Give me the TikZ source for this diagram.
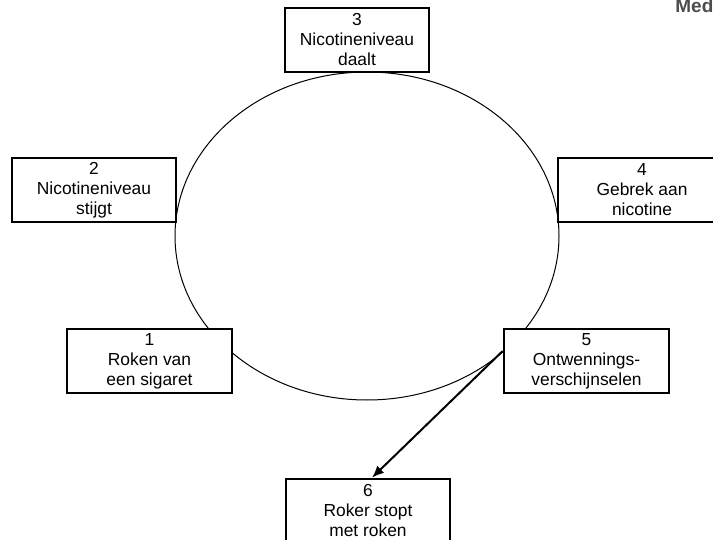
\documentclass[tikz,border=0pt]{standalone}
\usepackage{fontspec}
\setmainfont{Liberation Sans}
\usetikzlibrary{arrows.meta}

\begin{document}
\begin{tikzpicture}[x=0.5pt, y=-0.5pt, >={Latex[length=6pt,width=5pt]},
  every node/.style={align=center, inner sep=0pt, font=\fontsize{8.7}{10}\selectfont},
  stage/.style={draw, line width=1.3pt, fill=white, minimum height=32pt}]
\useasboundingbox (0,0) rectangle (713,540);
\clip (0,0) rectangle (713,540);
\node[anchor=base west, text=black!70, font=\bfseries\fontsize{9.5}{10}\selectfont] (med) at (675,13) {Med};
% cycle
\draw[line width=0.5pt] (367,236) ellipse [x radius=96pt, y radius=82pt];
\node[stage, minimum width=72pt] (drop) at (357,40) {3\\Nicotineniveau\\daalt};
\node[stage, minimum width=82pt] (rise) at (94,190) {2\\Nicotineniveau\\stijgt};
\node[stage, minimum width=84pt] (lack) at (642,190) {4\\Gebrek aan\\nicotine};
\node[stage, minimum width=82.5pt] (smoke) at (149.5,361) {1\\Roken van\\een sigaret};
\node[stage, minimum width=82.5pt] (withdraw) at (586.5,361) {5\\Ontwennings-\\verschijnselen};
\node[stage, minimum width=82pt] (quit) at (368,511) {6\\Roker stopt\\met roken};
\draw[->, line width=1pt] ([yshift=5pt]withdraw.west) -- ([xshift=2pt]quit.north);
\end{tikzpicture}
\end{document}
